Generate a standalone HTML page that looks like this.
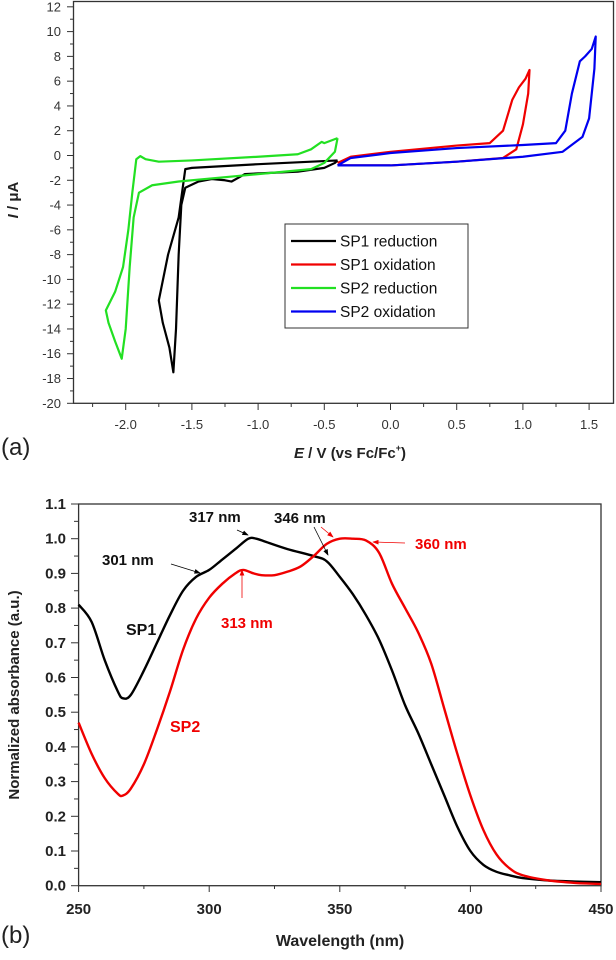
<!DOCTYPE html>
<html><head><meta charset="utf-8">
<style>
html,body{margin:0;padding:0;background:#fff;}
svg{display:block;font-family:"Liberation Sans",sans-serif;}
</style></head>
<body>
<svg id="fig" width="616" height="960" viewBox="0 0 616 960"></svg>
<script>
// ---- Chart (a) data: cyclic voltammetry ----
const sp1RedE = [-0.4,-0.5,-1.0,-1.5,-1.55,-1.6,-1.68,-1.75,-1.72,-1.67,-1.64,-1.62,-1.6,-1.58,-1.55,-1.45,-1.35,-1.25,-1.2,-1.15,-1.1,-0.7,-0.5,-0.42,-0.4];
const sp1RedI = [-0.4,-0.45,-0.7,-1.0,-1.1,-5,-8,-11.7,-13.5,-15.5,-17.5,-14,-8,-4,-2.6,-2.1,-1.9,-2.0,-2.1,-1.8,-1.5,-1.3,-1.0,-0.6,-0.4];
const sp2RedE = [-0.4,-0.5,-0.52,-0.6,-0.7,-1.0,-1.5,-1.75,-1.85,-1.89,-1.92,-1.95,-1.98,-2.02,-2.08,-2.15,-2.13,-2.08,-2.03,-2.0,-1.97,-1.94,-1.9,-1.8,-1.6,-1.2,-0.8,-0.6,-0.5,-0.42,-0.4];
const sp2RedI = [1.4,1.0,1.1,0.5,0.1,-0.1,-0.4,-0.5,-0.3,-0.05,-0.3,-3,-6,-9,-11,-12.5,-13.5,-15,-16.4,-14,-9,-5,-3,-2.4,-2.1,-1.7,-1.3,-1.1,-0.6,0.3,1.4];
const sp1OxE = [-0.4,-0.3,0,0.5,0.75,0.85,0.92,0.97,1.02,1.05,1.04,1.0,0.95,0.85,0.5,0,-0.3,-0.4];
const sp1OxI = [-0.6,-0.1,0.3,0.8,1.0,2,4.5,5.5,6.2,6.9,5,2.5,0.5,-0.2,-0.5,-0.8,-0.8,-0.8];
const sp2OxE = [-0.4,-0.3,0,0.5,1.0,1.25,1.32,1.37,1.43,1.47,1.52,1.55,1.54,1.5,1.45,1.3,1.0,0.5,0,-0.4];
const sp2OxI = [-0.8,-0.2,0.2,0.6,0.85,1.0,2,5,7.6,8,8.6,9.6,7,3,1.5,0.3,-0.1,-0.5,-0.8,-0.8];
const aYTicks = [12,10,8,6,4,2,0,-2,-4,-6,-8,-10,-12,-14,-16,-18,-20];
const aXTicks = [-2.0,-1.5,-1.0,-0.5,0.0,0.5,1.0,1.5];
const legendLabels = ["SP1 reduction","SP1 oxidation","SP2 reduction","SP2 oxidation"];
const legendColors = ["#000","#f00000","#22e022","#0000f0"];

// ---- Chart (b) data: UV-vis ----
const wlSP1 = [250,255,260,265,267,270,275,280,285,290,295,300,305,310,315,318,322,330,340,345,350,355,360,365,370,375,380,385,390,395,400,405,410,415,420,430,440,450];
const absSP1 = [0.81,0.76,0.65,0.56,0.54,0.55,0.62,0.70,0.78,0.85,0.89,0.91,0.94,0.97,1.0,1.0,0.99,0.97,0.95,0.935,0.89,0.84,0.78,0.71,0.62,0.52,0.44,0.35,0.26,0.17,0.10,0.06,0.04,0.03,0.022,0.015,0.012,0.01];
const wlSP2 = [250,255,260,265,267,270,275,280,285,290,295,300,305,310,313,317,320,325,330,335,340,345,350,355,360,365,370,375,380,385,390,395,400,405,410,415,420,430,440,450];
const absSP2 = [0.47,0.38,0.31,0.265,0.26,0.28,0.35,0.45,0.56,0.68,0.77,0.83,0.87,0.90,0.91,0.90,0.895,0.895,0.905,0.92,0.95,0.985,1.0,1.0,0.995,0.96,0.87,0.80,0.73,0.64,0.51,0.38,0.26,0.16,0.09,0.05,0.03,0.015,0.008,0.005];
const bYTicks = [0.0,0.1,0.2,0.3,0.4,0.5,0.6,0.7,0.8,0.9,1.0,1.1];
const bXTicks = [250,300,350,400,450];

const NS="http://www.w3.org/2000/svg";
const svg=document.getElementById('fig');
function mk(tag,attrs,parent){const e=document.createElementNS(NS,tag);for(const k in attrs)e.setAttribute(k,attrs[k]);(parent||svg).appendChild(e);return e;}

const ax=v=>125.7+(v+2.0)*132.4;
const ay=v=>403.3-(v+20)*12.39;
const bx=v=>78.6+(v-250)*(601-78.6)/200;
const by=v=>885.7-v*(885.7-504)/1.1;

// ---------- Panel (a) ----------
const gA=mk('g',{});


let fr=mk('rect',{x:73.5,y:1.5,width:540,height:401.8,fill:'none',stroke:'#333','stroke-width':1.3},gA);

for(let v=-20;v<=12;v+=1){mk('line',{x1:73.5,x2:v%2===0?67:70,y1:ay(v),y2:ay(v),stroke:'#333','stroke-width':1},gA);}
aYTicks.forEach(v=>{const t=mk('text',{x:61,y:ay(v)+4.5,'text-anchor':'end','font-size':13,fill:'#333'},gA);t.textContent=String(v);
});
for(let v=-2.25;v<=1.76;v+=0.25){const major=Math.abs(Math.round(v*2)-v*2)<1e-6;mk('line',{x1:ax(v),x2:ax(v),y1:403.3,y2:major?410:407,stroke:'#333','stroke-width':1},gA);}
aXTicks.forEach(v=>{const t=mk('text',{x:ax(v),y:429,'text-anchor':'middle','font-size':13,fill:'#333'},gA);t.textContent=v.toFixed(1);
});
function poly(xs,ys,fx,fy,col,name,g,w){const p=mk('polyline',{points:xs.map((x,i)=>fx(x)+','+fy(ys[i])).join(' '),fill:'none',stroke:col,'stroke-width':w||2.2,'stroke-linejoin':'round'},g);
return p;}
function smooth(xs,ys,fx,fy,col,name,g,w){const P=xs.map((x,i)=>[fx(x),fy(ys[i])]);let d='M'+P[0][0]+','+P[0][1];
for(let i=0;i<P.length-1;i++){const p0=P[Math.max(0,i-1)],p1=P[i],p2=P[i+1],p3=P[Math.min(P.length-1,i+2)];
const c1=[p1[0]+(p2[0]-p0[0])/6,p1[1]+(p2[1]-p0[1])/6],c2=[p2[0]-(p3[0]-p1[0])/6,p2[1]-(p3[1]-p1[1])/6];
d+=' C'+c1[0]+','+c1[1]+' '+c2[0]+','+c2[1]+' '+p2[0]+','+p2[1];}
const p=mk('path',{d,fill:'none',stroke:col,'stroke-width':w||2.2,'stroke-linejoin':'round'},g);
return p;}
poly(sp1OxE,sp1OxI,ax,ay,legendColors[1],'sp1-oxidation-curve',gA);
poly(sp2OxE,sp2OxI,ax,ay,legendColors[3],'sp2-oxidation-curve',gA);
poly(sp1RedE,sp1RedI,ax,ay,legendColors[0],'sp1-reduction-curve',gA);
poly(sp2RedE,sp2RedI,ax,ay,legendColors[2],'sp2-reduction-curve',gA);
const lg=mk('g',{},gA);
mk('rect',{x:285,y:224,width:183,height:104,fill:'#fff',stroke:'#333','stroke-width':1},lg);
legendLabels.forEach((l,i)=>{const yy=241+i*23.5;
const e=mk('g',{},lg);
mk('line',{x1:291,x2:336,y1:yy,y2:yy,stroke:legendColors[i],'stroke-width':2.2},e);
const t=mk('text',{x:340,y:yy+5.5,'font-size':15.5,fill:'#111'},e);t.textContent=l;});
let t;
t=mk('text',{transform:'translate(18,200) rotate(-90)','text-anchor':'middle','font-size':15,'font-weight':'bold',fill:'#222'},gA);
t.innerHTML='<tspan font-style="italic">I</tspan> / μA';
t=mk('text',{x:350,y:458,'text-anchor':'middle','font-size':15,'font-weight':'bold',fill:'#222'},gA);
t.innerHTML='<tspan font-style="italic">E</tspan> / V (vs Fc/Fc<tspan font-size="9" dy="-7">+</tspan><tspan dy="7">)</tspan>';
t=mk('text',{x:1,y:455,'font-size':24,fill:'#222'},gA);t.textContent='(a)';

// ---------- Panel (b) ----------
const gB=mk('g',{});


fr=mk('rect',{x:78.6,y:504,width:522.4,height:381.7,fill:'none',stroke:'#333','stroke-width':1.3},gB);

for(let i=0;i<=22;i++){const v=i*0.05;mk('line',{x1:78.6,x2:i%2===0?71:74,y1:by(v),y2:by(v),stroke:'#333','stroke-width':1},gB);}
bYTicks.forEach(v=>{const t=mk('text',{x:66,y:by(v)+5,'text-anchor':'end','font-size':15,'font-weight':'bold',fill:'#222'},gB);t.textContent=v.toFixed(1);
});
for(let v=250;v<=450;v+=25){mk('line',{x1:bx(v),x2:bx(v),y1:885.7,y2:v%50===0?892:889,stroke:'#333','stroke-width':1},gB);}
bXTicks.forEach(v=>{const t=mk('text',{x:bx(v),y:914,'text-anchor':'middle','font-size':15,'font-weight':'bold',fill:'#222'},gB);t.textContent=String(v);
});
smooth(wlSP1,absSP1,bx,by,'#000','sp1-absorbance-curve',gB,2.4);
smooth(wlSP2,absSP2,bx,by,'#f00000','sp2-absorbance-curve',gB,2.4);
const defs=mk('defs',{});
const m1=mk('marker',{id:'ak',markerWidth:8,markerHeight:6,refX:7,refY:3,orient:'auto'},defs);mk('path',{d:'M0,0 L8,3 L0,6 Z',fill:'#000'},m1);
const m2=mk('marker',{id:'ar',markerWidth:8,markerHeight:6,refX:7,refY:3,orient:'auto'},defs);mk('path',{d:'M0,0 L8,3 L0,6 Z',fill:'#f00000'},m2);
function arrow(x1,y1,x2,y2,c,name){const l=mk('line',{x1,y1,x2,y2,stroke:c,'stroke-width':0.8,'marker-end':c==='#000'?'url(#ak)':'url(#ar)'},gB);
}
arrow(171,564,200,573,'#000','arrow-301');
arrow(237,530,248,535,'#000','arrow-317');
arrow(314,527,328,555,'#000','arrow-346');
arrow(321,527,333,537,'#f00000','arrow-346-red');
arrow(405,543,373,542,'#f00000','arrow-360');
arrow(242,598,242,570,'#f00000','arrow-313');
function lab(x,y,s,c,name,sz){const t=mk('text',{x,y,'font-size':sz||15,'font-weight':'bold',fill:c},gB);t.textContent=s;}
lab(189,522,'317 nm','#111','label-317nm');
lab(274,523,'346 nm','#111','label-346nm');
lab(102,565,'301 nm','#111','label-301nm');
lab(415,549,'360 nm','#f00000','label-360nm');
lab(221,628,'313 nm','#f00000','label-313nm');
lab(126,635,'SP1','#111','label-sp1',16);
lab(170,732,'SP2','#f00000','label-sp2',16);
t=mk('text',{transform:'translate(19,695) rotate(-90)','text-anchor':'middle','font-size':15,'font-weight':'bold',fill:'#222'},gB);
t.textContent='Normalized absorbance (a.u.)';
t=mk('text',{x:340,y:946,'text-anchor':'middle','font-size':16,'font-weight':'bold',fill:'#222'},gB);
t.textContent='Wavelength (nm)';
t=mk('text',{x:1,y:943,'font-size':24,fill:'#222'},gB);t.textContent='(b)';
</script>
</body></html>
